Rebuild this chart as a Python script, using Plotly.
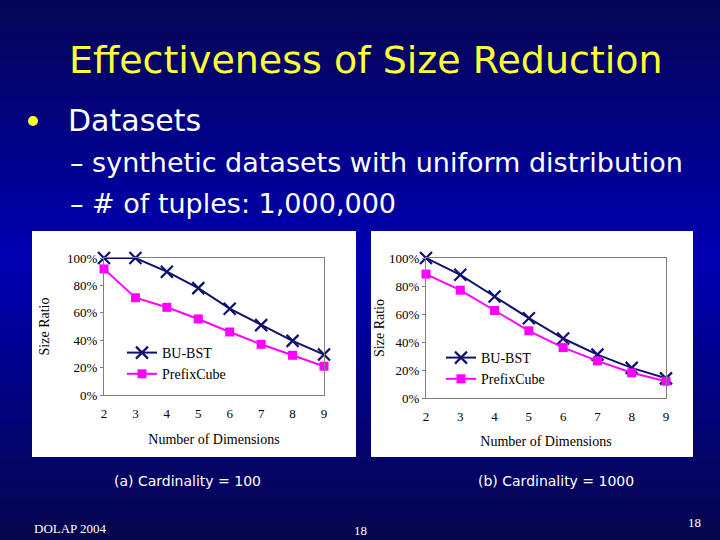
import plotly.graph_objects as go

# data
dims = [2, 3, 4, 5, 6, 7, 8, 9]
bu_bst_100 = [100, 100, 90, 78, 63, 51, 39.5, 29.5]
prefix_100 = [92, 71, 64, 55.5, 46, 37, 29, 21]
bu_bst_1000 = [100, 88, 72.5, 57, 42.5, 31, 21.5, 14]
prefix_1000 = [88.5, 77, 62.5, 48, 36, 26.5, 18, 12]
y_ticks = [0, 20, 40, 60, 80, 100]
y_tick_text = ["0%", "20%", "40%", "60%", "80%", "100%"]

W, H = 720, 540
NAVY = "#10106e"
MAG = "#ff00ff"
SERIF = "Liberation Serif, Times New Roman, serif"
HAND = "DejaVu Sans, sans-serif"


def px(x):
    return x / W


def py(y):
    return 1 - y / H


fig = go.Figure()

# background gradient: dark navy at top/bottom, brighter blue in the middle
shapes = []
n = 54
for i in range(n):
    t = (i + 0.5) / n
    k = 1 - abs(t - 0.48) / 0.52
    r = int(6 * (1 - k))
    g = int(6 * (1 - k))
    b = int(76 + 104 * k)
    shapes.append(dict(type="rect", xref="paper", yref="paper",
                       x0=0, x1=1, y0=1 - (i + 1) / n, y1=1 - i / n,
                       fillcolor=f"rgb({r},{g},{b})", line_width=0, layer="below"))
# white chart panels
for x0, x1 in [(32, 356), (371, 693)]:
    shapes.append(dict(type="rect", xref="paper", yref="paper",
                       x0=px(x0), x1=px(x1), y0=py(457), y1=py(231),
                       fillcolor="white", line_width=0, layer="below"))

panels = [
    ("x", "y", "legend", bu_bst_100, prefix_100),
    ("x2", "y2", "legend2", bu_bst_1000, prefix_1000),
]
for xa, ya, lg, bu, pc in panels:
    fig.add_trace(go.Scatter(
        x=dims, y=bu, name="BU-BST", xaxis=xa, yaxis=ya, legend=lg,
        mode="lines+markers", cliponaxis=False,
        line=dict(color=NAVY, width=2),
        marker=dict(symbol="x-thin-open", size=12, line=dict(color=NAVY, width=2.2)),
    ))
    fig.add_trace(go.Scatter(
        x=dims, y=pc, name="PrefixCube", xaxis=xa, yaxis=ya, legend=lg,
        mode="lines+markers", cliponaxis=False,
        line=dict(color=MAG, width=2),
        marker=dict(symbol="square", size=9, color=MAG),
    ))


def xaxis_style(standoff):
    return dict(range=[2, 9], tickvals=dims, showgrid=False, zeroline=False,
                showline=True, linecolor="#808080", linewidth=1, mirror=True,
                ticks="", automargin=False, ticklabelstandoff=6,
                tickfont=dict(family=SERIF, size=13, color="black"),
                title=dict(text="Number of Dimensions", standoff=standoff,
                           font=dict(family=SERIF, size=14, color="black")))


def yaxis_style(standoff):
    return dict(range=[0, 100], tickvals=y_ticks, ticktext=y_tick_text,
                showgrid=False, zeroline=False, showline=True, linecolor="#808080",
                linewidth=1, mirror=True, ticks="outside", ticklen=3,
                tickcolor="#808080", automargin=False,
                tickfont=dict(family=SERIF, size=13, color="black"),
                title=dict(text="Size Ratio", standoff=standoff,
                           font=dict(family=SERIF, size=14, color="black")))


fig.update_layout(
    width=W, height=H, margin=dict(l=0, r=0, t=0, b=0, pad=0),
    paper_bgcolor="#000060", plot_bgcolor="rgba(0,0,0,0)",
    shapes=shapes,
    xaxis=dict(domain=[px(104), px(324)], anchor="y", **xaxis_style(14)),
    yaxis=dict(domain=[py(395), py(258)], anchor="x", **yaxis_style(14)),
    xaxis2=dict(domain=[px(426), px(666)], anchor="y2", **xaxis_style(13)),
    yaxis2=dict(domain=[py(398), py(258)], anchor="x2", **yaxis_style(1)),
    legend=dict(x=px(122), y=py(337), xanchor="left", yanchor="top",
                bgcolor="rgba(0,0,0,0)", tracegroupgap=0,
                font=dict(family=SERIF, size=14, color="black")),
    legend2=dict(x=px(441), y=py(342), xanchor="left", yanchor="top",
                 bgcolor="rgba(0,0,0,0)", tracegroupgap=0,
                 font=dict(family=SERIF, size=14, color="black")),
)

# slide texts
texts = [
    ("Effectiveness of Size Reduction", 366, 60, 38, "#ffff33", HAND, "center"),
    ("Datasets", 66, 120, 30, "white", HAND, "left"),
    ("– synthetic datasets with uniform distribution", 68, 162, 27, "white", HAND, "left"),
    ("– # of tuples: 1,000,000", 68, 203, 27, "white", HAND, "left"),
    ("(a) Cardinality = 100", 187, 481, 14, "white", HAND, "center"),
    ("(b) Cardinality = 1000", 556, 481, 14, "white", HAND, "center"),
    ("DOLAP 2004", 32, 528, 13, "white", SERIF, "left"),
    ("18", 360, 530, 13, "white", SERIF, "center"),
    ("18", 703, 522, 13, "white", SERIF, "right"),
]
for txt, x, y, size, color, fam, anchor in texts:
    fig.add_annotation(text=txt, x=px(x), y=py(y), xref="paper", yref="paper",
                       xanchor=anchor, yanchor="middle", showarrow=False,
                       font=dict(family=fam, size=size, color=color))
# yellow bullet
fig.add_shape(type="circle", xref="paper", yref="paper",
              x0=px(28), x1=px(38), y0=py(126), y1=py(116),
              fillcolor="#ffff33", line_width=0)

# drop the default page margin so the 720x540 slide fills the window
fig.write_html("out.html", config={"displayModeBar": False},
               post_script="document.body.style.margin='0px';")
